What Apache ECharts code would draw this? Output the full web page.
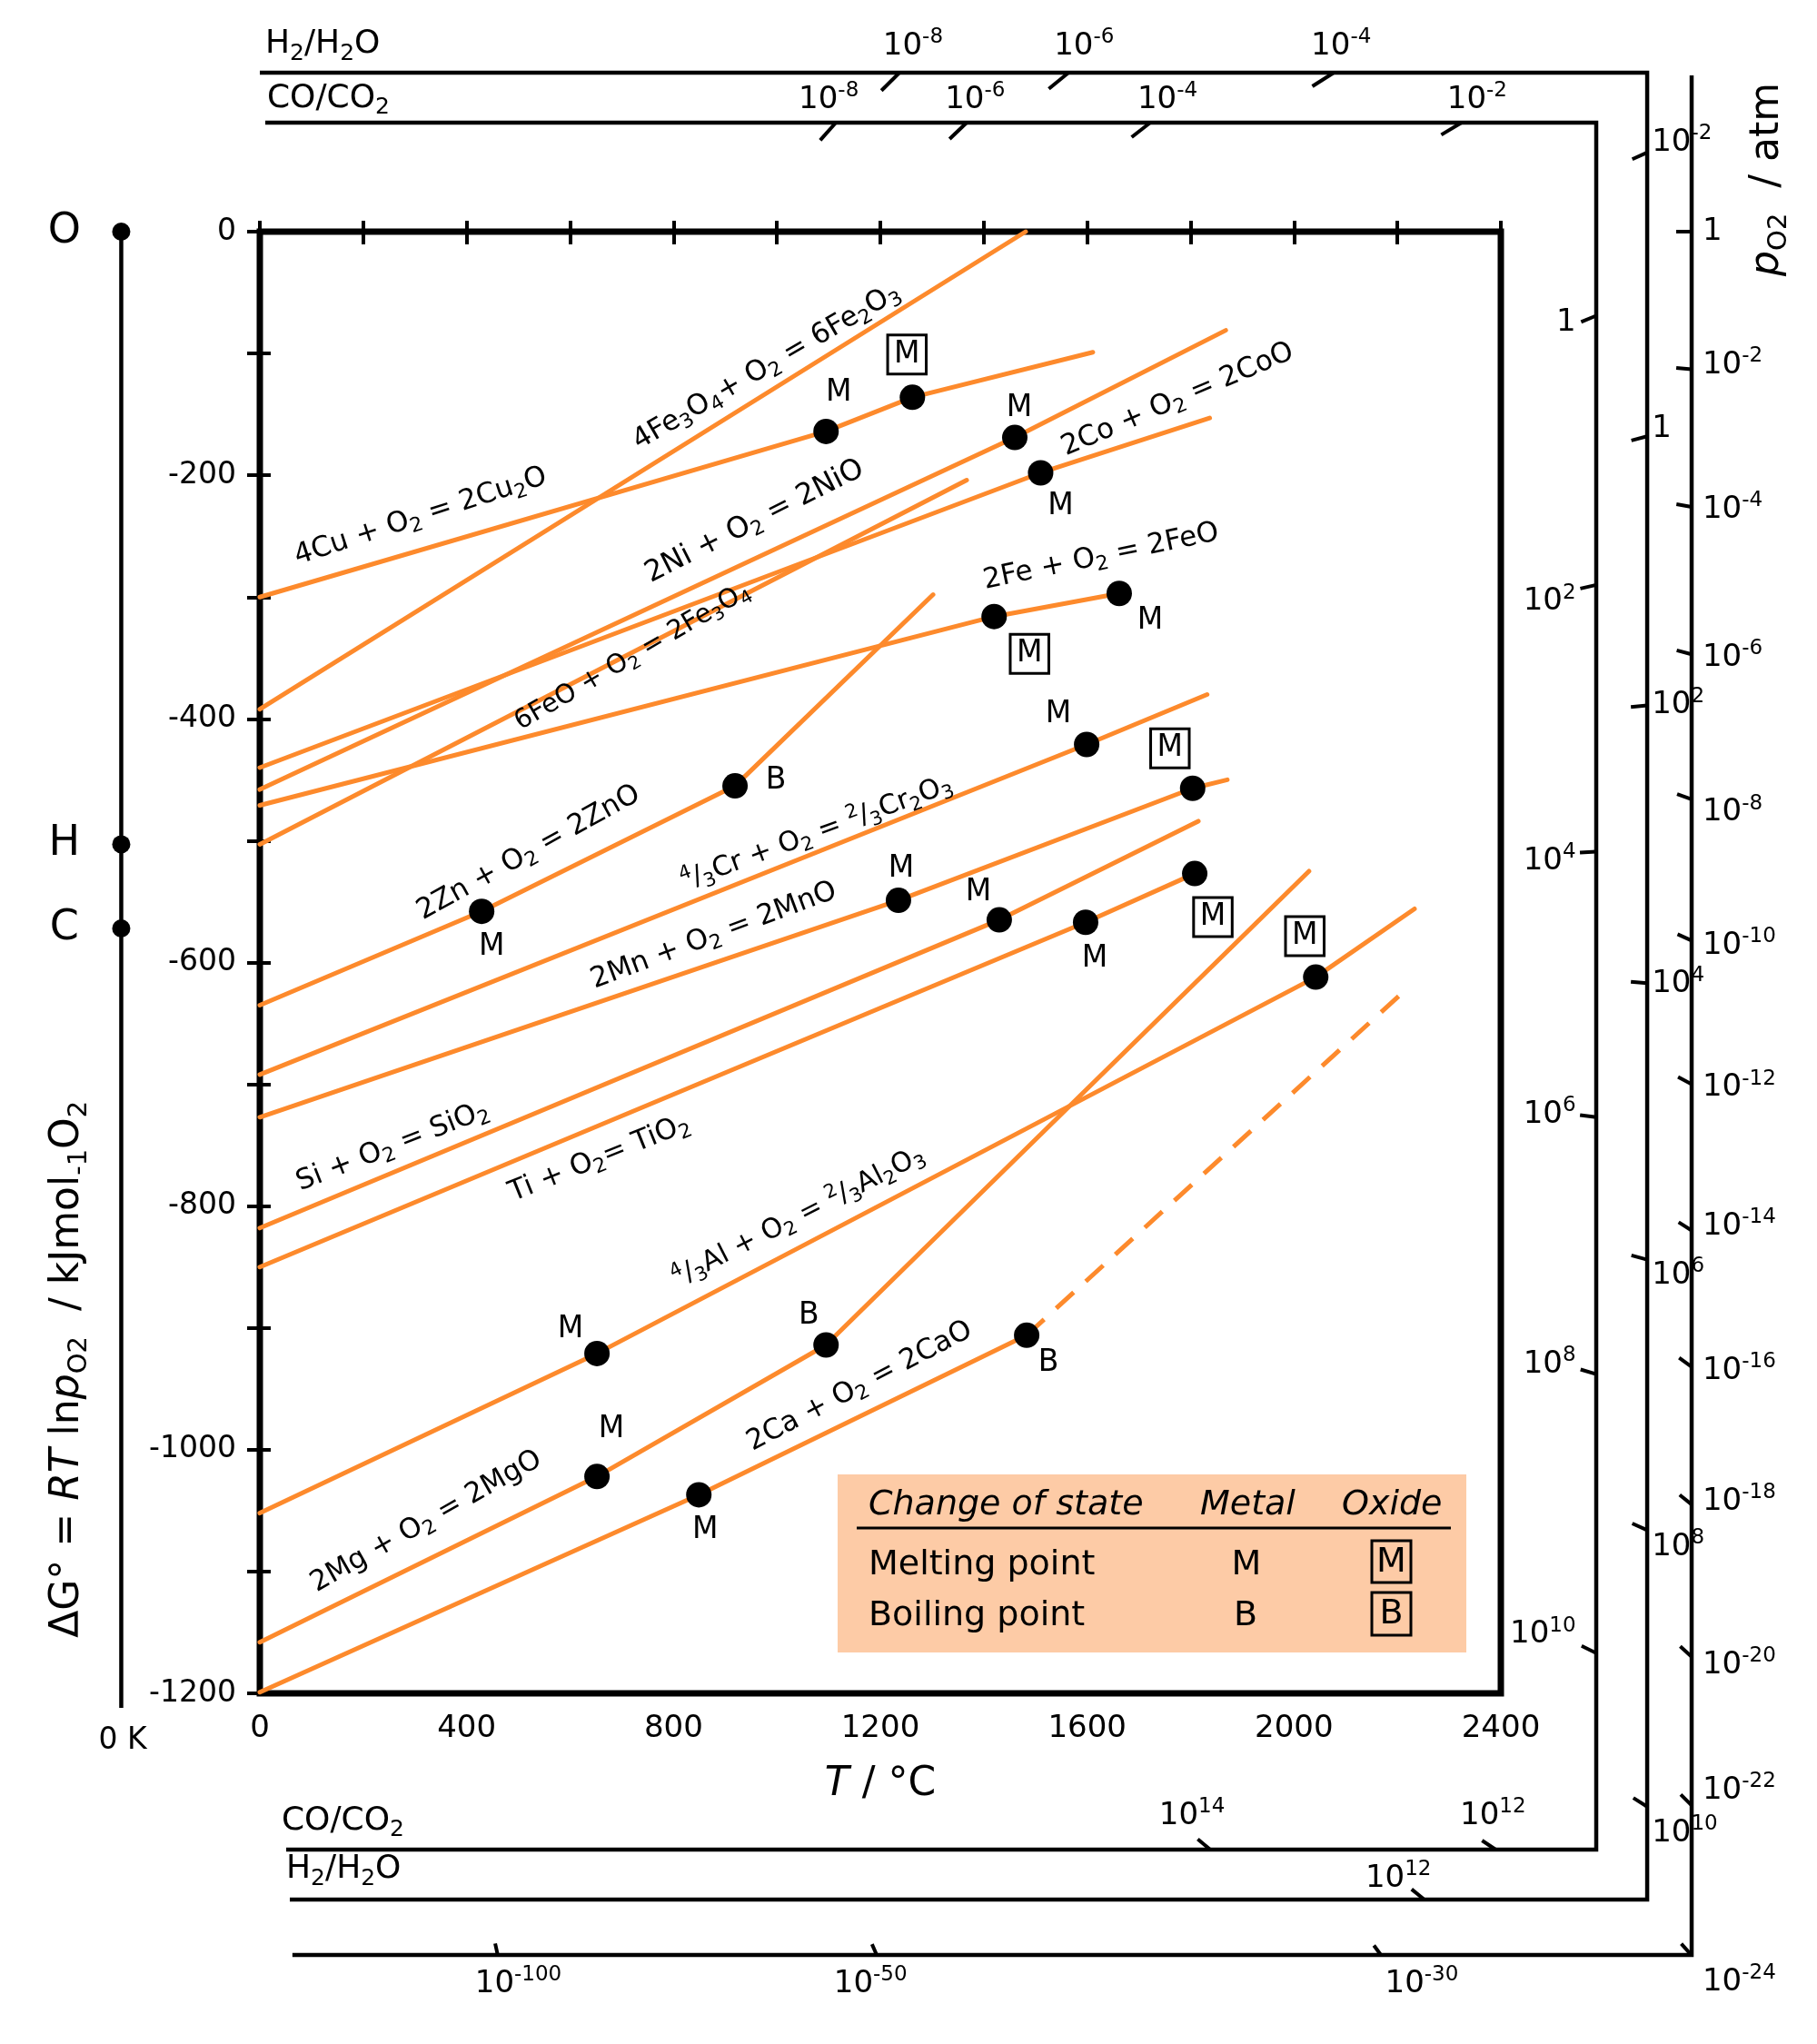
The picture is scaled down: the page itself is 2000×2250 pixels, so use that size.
<!DOCTYPE html>
<html><head><meta charset="utf-8"><title>Ellingham diagram</title>
<script src="https://cdn.jsdelivr.net/npm/echarts@6.0.0/dist/echarts.min.js"></script>
<style>html,body{margin:0;padding:0;background:#fff;}#chart{width:2000px;height:2250px;}</style>
</head><body><div id="chart"></div>
<script>
// ================= DATA (T in °C, ΔG° in kJ per mol O2) =================
const Cu2O   = [[0,-300],[1095,-164],[1262,-136],[1611,-99]];
const Cu2O_states = ['', 'M', 'Mo', ''];
const Fe2O3  = [[0,-392],[1481,0]];
const Fe2O3_states = ['', ''];
const NiO    = [[0,-458],[1460,-169],[1868,-81]];
const NiO_states = ['', 'M', ''];
const CoO    = [[0,-440],[1510,-198],[1837,-153]];
const CoO_states = ['', 'M', ''];
const Fe3O4  = [[0,-503],[1367,-204]];
const Fe3O4_states = ['', ''];
const FeO    = [[0,-471],[1420,-316],[1662,-297]];
const FeO_states = ['', 'Mo', 'M'];
const ZnO    = [[0,-635],[429,-558],[919,-455],[1302,-298]];
const ZnO_states = ['', 'M', 'B', ''];
const Cr2O3  = [[0,-692],[1599,-421],[1832,-380]];
const Cr2O3_states = ['', 'M', ''];
const MnO    = [[0,-727],[1235,-549],[1804,-457],[1871,-450]];
const MnO_states = ['', 'M', 'Mo', ''];
const SiO2   = [[0,-818],[1430,-565],[1815,-484]];
const SiO2_states = ['', 'M', ''];
const TiO2   = [[0,-850],[1597,-567],[1808,-527]];
const TiO2_states = ['', 'M', 'Mo'];
const Al2O3  = [[0,-1052],[652,-921],[2042,-612],[2233,-556]];
const Al2O3_states = ['', 'M', 'Mo', ''];
const MgO    = [[0,-1158],[652,-1022],[1095,-914],[2029,-525]];
const MgO_states = ['', 'M', 'B', ''];
const CaO    = [[0,-1199],[849,-1037],[1483,-906]];
const CaO_states = ['', 'M', 'B'];
const CaO_extrapolated = [[1483,-906],[2217,-622]];

const reactionLabels = [
  '{n|4Cu + O}{s|2}{n| = 2Cu}{s|2}{n|O}',
  '{n|4Fe}{s|3}{n|O}{s|4}{n|+ O}{s|2}{n| = 6Fe}{s|2}{n|O}{s|3}',
  '{n|2Ni + O}{s|2}{n| = 2NiO}',
  '{n|2Co + O}{s|2}{n| = 2CoO}',
  '{n|6FeO + O}{s|2}{n| = 2Fe}{s|3}{n|O}{s|4}',
  '{n|2Fe + O}{s|2}{n| = 2FeO}',
  '{n|2Zn + O}{s|2}{n| = 2ZnO}',
  '{p|4}{n|/}{s|3}{n|Cr + O}{s|2}{n| = }{p|2}{n|/}{s|3}{n|Cr}{s|2}{n|O}{s|3}',
  '{n|2Mn + O}{s|2}{n| = 2MnO}',
  '{n|Si + O}{s|2}{n| = SiO}{s|2}',
  '{n|Ti + O}{s|2}{n|= TiO}{s|2}',
  '{p|4}{n|/}{s|3}{n|Al + O}{s|2}{n| = }{p|2}{n|/}{s|3}{n|Al}{s|2}{n|O}{s|3}',
  '{n|2Mg + O}{s|2}{n| = 2MgO}',
  '{n|2Ca + O}{s|2}{n| = 2CaO}'
];

// reference points on the 0 K line (kJ)
const refNames = ['O', 'H', 'C'];
const refG = [0, -503, -572];

// nomographic scales: exponents, tick positions and label positions (°C or kJ)
const h2TopExp = [-8, -6, -4];
const h2TopTickT = [1237, 1564, 2077];
const h2TopLabelT = [1205, 1536, 2033];
const h2RightExp = [-2, 0, 2, 4, 6, 8, 10];
const h2RightTickG = [65, -168, -389, -617, -844, -1066, -1293];
const h2RightLabelG = [73, -162, -389, -618, -857, -1080, -1315];
const h2BottomExp = [12];
const h2BottomTickT = [2252];
const h2BottomLabelT = [2138];

const coTopExp = [-8, -6, -4, -2];
const coTopTickT = [1114, 1367, 1722, 2324];
const coTopLabelT = [1042, 1325, 1697, 2296];
const coRightExp = [0, 2, 4, 6, 8, 10];
const coRightTickG = [-69, -290, -509, -727, -938, -1167];
const coRightLabelG = [-75, -304, -517, -725, -930, -1152];
const coBottomExp = [14, 12];
const coBottomTickT = [1838, 2390];
const coBottomLabelT = [1739, 2321];

const poRightExp = [0, -2, -4, -6, -8, -10, -12, -14, -16, -18, -20, -22, -24];
const poRightTickG = [0, -113, -226, -347, -466, -582, -700, -820, -932, -1045, -1170, -1292, -1415];
const poRightLabelG = [0, -110, -228, -350, -477, -586, -703, -817, -935, -1043, -1177, -1280, -1437];
const poBottomExp = [-100, -50, -30];
const poBottomTickT = [460, 1193, 2168];
const poBottomLabelT = [416, 1110, 2176];

// ================= LAYOUT / STYLE =================
const FONT = 'DejaVu Sans';
const ORANGE = '#fd8a2c';
const CW = 2000, CH = 2250;
const GL = 286, GT = 255, GW = 1366, GH = 1609;
const pxT = GW / 2400, pxG = GH / 1200;
const ovXMin = -GL / pxT, ovXMax = (CW - GL) / pxT;
const ovYMax = GT / pxG, ovYMin = -(CH - GT) / pxG;

const ZERO_K = -268;
const H2_TOP = 130.5, H2_RIGHT = 2683, H2_BOTTOM = -1369.3;
const CO_TOP = 89.5, CO_RIGHT = 2584.5, CO_BOTTOM = -1328.3;
const PO_TOP = 128.3, PO_RIGHT = 2769, PO_BOTTOM = -1414.8;
const frameH2 = [[0, H2_TOP], [H2_RIGHT, H2_TOP], [H2_RIGHT, H2_BOTTOM], [58, H2_BOTTOM]];
const frameCO = [[10.5, CO_TOP], [CO_RIGHT, CO_TOP], [CO_RIGHT, CO_BOTTOM], [51, CO_BOTTOM]];
const framePO = [[PO_RIGHT, PO_TOP], [PO_RIGHT, PO_BOTTOM], [63, PO_BOTTOM]];
const frameZeroK = [[ZERO_K, 0], [ZERO_K, -1212]];
const centerO = [ZERO_K, refG[0]], centerH = [ZERO_K, refG[1]], centerC = [ZERO_K, refG[2]];

const labelAt = [[311,-234],[980,-111],[957,-238],[1775,-138],[721,-349],[1627,-267],[520,-510],
  [1077,-494],[878,-578],[257,-751],[657,-761],[1042,-809],[322,-1059],[1160,-948]];
const labelAngle = [18, 30.2, 26.8, 23.2, 30.3, 11.8, 29, 20.2, 20.5, 21.4, 21.9, 27, 29.5, 27.6];
const labelSize = [31, 31, 32, 31, 29, 31, 31, 30, 31, 31, 31, 30, 31, 31];

const stateOffsets = [
  [[14,-42],[-6,-47]], [], [[5,-32]], [[22,37]], [], [[39,41],[34,30]], [[11,39],[45,-6]],
  [[-31,-33]], [[3,-35],[-25,-44]], [[-23,-30]], [[10,40],[20,48]], [[-29,-26],[-12,-45]],
  [[16,-52],[-19,-32]], [[7,39],[24,31]]
];

const reactions = [Cu2O, Fe2O3, NiO, CoO, Fe3O4, FeO, ZnO, Cr2O3, MnO, SiO2, TiO2, Al2O3, MgO, CaO];
const reactionStates = [Cu2O_states, Fe2O3_states, NiO_states, CoO_states, Fe3O4_states, FeO_states,
  ZnO_states, Cr2O3_states, MnO_states, SiO2_states, TiO2_states, Al2O3_states, MgO_states, CaO_states];

function richSet(n, s) {
  return {
    n: {fontSize: n, lineHeight: Math.round(n * 1.25), fontFamily: FONT, fill: '#000'},
    i: {fontSize: n, lineHeight: Math.round(n * 1.25), fontFamily: FONT, fontStyle: 'italic', fill: '#000'},
    s: {fontSize: s, lineHeight: Math.round(s * 0.6), verticalAlign: 'bottom', fontFamily: FONT, fill: '#000'},
    p: {fontSize: s, lineHeight: Math.round(s * 0.6), verticalAlign: 'top', fontFamily: FONT, fill: '#000'}
  };
}
const scaleRich = richSet(34, 23);
function expText(e) { return e === 0 ? '{n|1}' : '{n|10}{p|' + e + '}'; }

// ---- generic custom series helpers ----
function textSeries(axisIdx, points, items, z) {
  return {
    type: 'custom', xAxisIndex: axisIdx, yAxisIndex: axisIdx, data: points, z: z || 6, silent: true,
    renderItem: function (params, api) {
      const it = items[params.dataIndex];
      const p = api.coord([api.value(0), api.value(1)]);
      const style = Object.assign({
        text: it.text, rich: it.rich, fill: '#000', fontFamily: FONT, fontSize: it.fs || 34,
        fontStyle: it.italic ? 'italic' : 'normal',
        align: it.align || 'center', verticalAlign: 'middle'
      }, it.box || {});
      return {type: 'text', x: p[0] + (it.dx || 0), y: p[1] + (it.dy || 0),
        rotation: (it.rot || 0) * Math.PI / 180, style: style};
    }
  };
}
function tickSeries(points, center, len) {
  return {
    type: 'custom', xAxisIndex: 2, yAxisIndex: 2, data: points, z: 5, silent: true,
    renderItem: function (params, api) {
      const p = api.coord([api.value(0), api.value(1)]);
      const c = api.coord(center);
      const dx = c[0] - p[0], dy = c[1] - p[1], d = Math.hypot(dx, dy);
      return {type: 'line', shape: {x1: p[0], y1: p[1], x2: p[0] + dx / d * len, y2: p[1] + dy / d * len},
        style: {stroke: '#000', lineWidth: 4, lineCap: 'butt'}};
    }
  };
}
function frameSeries(pts, width) {
  return {type: 'line', xAxisIndex: 2, yAxisIndex: 2, data: pts, symbol: 'none', silent: true, z: 4,
    lineStyle: {color: '#000', width: width, join: 'miter', cap: 'butt'}};
}
function scaleLabels(points, exps, align) {
  return textSeries(2, points, exps.map(e => ({text: expText(e), rich: scaleRich, align: align})));
}

const series = [];

// ---- reaction lines ----
reactions.forEach(function (pts) {
  series.push({type: 'line', xAxisIndex: 0, yAxisIndex: 0, data: pts, symbol: 'none', z: 2, silent: true,
    lineStyle: {color: ORANGE, width: 5, cap: 'round'}});
});
series.push({type: 'line', xAxisIndex: 0, yAxisIndex: 0, data: CaO_extrapolated, symbol: 'none', z: 2, silent: true,
  lineStyle: {color: ORANGE, width: 5, type: [26, 18]}});

// ---- transition dots and their letters ----
const dotPts = [], dotItems = [];
reactions.forEach(function (pts, r) {
  let k = 0;
  pts.forEach(function (pt, j) {
    const st = reactionStates[r][j];
    if (!st) return;
    const off = stateOffsets[r][k++] || [0, -30];
    dotPts.push(pt);
    const boxed = st.length > 1;
    dotItems.push({text: st.charAt(0), fs: 33, dx: off[0], dy: off[1],
      box: boxed ? {borderColor: '#000', borderWidth: 3, padding: [5, 7, 4, 7], lineHeight: 34} : {lineHeight: 34}});
  });
});
series.push({type: 'scatter', xAxisIndex: 0, yAxisIndex: 0, data: dotPts, symbolSize: 28, z: 5, silent: true,
  itemStyle: {color: '#000', opacity: 1}});
series.push(textSeries(0, dotPts, dotItems, 7));

// ---- reaction labels ----
series.push(textSeries(0, labelAt, reactionLabels.map((t, i) => ({
  text: t, rich: richSet(labelSize[i], Math.round(labelSize[i] * 0.7)), rot: labelAngle[i]
})), 7));

// ---- nomographic scales (overlay grid, same units) ----
series.push(frameSeries(frameH2, 4.5));
series.push(frameSeries(frameCO, 4.5));
series.push(frameSeries(framePO, 4.5));
series.push(frameSeries(frameZeroK, 4.5));
series.push({type: 'scatter', xAxisIndex: 2, yAxisIndex: 2, data: refG.map(g => [ZERO_K, g]), symbolSize: 20,
  itemStyle: {color: '#000', opacity: 1}, z: 5, silent: true});

series.push(tickSeries(h2TopTickT.map(t => [t, H2_TOP]), centerH, 28));
series.push(tickSeries(h2RightTickG.map(g => [H2_RIGHT, g]), centerH, 18));
series.push(tickSeries(h2BottomTickT.map(t => [t, H2_BOTTOM]), centerH, 18));
series.push(tickSeries(coTopTickT.map(t => [t, CO_TOP]), centerC, 26));
series.push(tickSeries(coRightTickG.map(g => [CO_RIGHT, g]), centerC, 18));
series.push(tickSeries(coBottomTickT.map(t => [t, CO_BOTTOM]), centerC, 18));
series.push(tickSeries(poRightTickG.map(g => [PO_RIGHT, g]), centerO, 17));
series.push(tickSeries(poBottomTickT.map(t => [t, PO_BOTTOM]), centerO, 13));

series.push(scaleLabels(h2TopLabelT.map(t => [t, 152]), h2TopExp, 'left'));
series.push(scaleLabels(h2RightLabelG.map(g => [2692, g]), h2RightExp, 'left'));
series.push(scaleLabels(h2BottomLabelT.map(t => [t, -1352]), h2BottomExp, 'left'));
series.push(scaleLabels(coTopLabelT.map(t => [t, 108]), coTopExp, 'left'));
series.push(scaleLabels(coRightLabelG.map(g => [2545, g]), coRightExp, 'right'));
series.push(scaleLabels(coBottomLabelT.map(t => [t, -1301]), coBottomExp, 'left'));
series.push(scaleLabels(poRightLabelG.map(g => [2790, g]), poRightExp, 'left'));
series.push(scaleLabels(poBottomLabelT.map(t => [t, -1439]), poBottomExp, 'left'));

// ---- scale names, reference letters, titles ----
const gasRich = richSet(36, 25);
series.push(textSeries(2,
  [[10.5, 153.6], [14, 109.3], [42, -1304.8], [51, -1344.7],
   [-378, refG[0]], [-378, refG[1]], [-378, refG[2]], [-265, -1239],
   [-372, -934], [2915, 43]],
  [
    {text: '{n|H}{s|2}{n|/H}{s|2}{n|O}', rich: gasRich, align: 'left'},
    {text: '{n|CO/CO}{s|2}', rich: gasRich, align: 'left'},
    {text: '{n|CO/CO}{s|2}', rich: gasRich, align: 'left'},
    {text: '{n|H}{s|2}{n|/H}{s|2}{n|O}', rich: gasRich, align: 'left'},
    {text: refNames[0], fs: 46}, {text: refNames[1], fs: 46}, {text: refNames[2], fs: 46},
    {text: '0 K', fs: 33},
    {text: '{n|ΔG° = }{i|RT}{n| ln}{i|p}{s|O2}{n|  / kJmol}{s|-1}{n|O}{s|2}', rich: richSet(44, 29), rot: 90},
    {text: '{i|p}{s|O2}{n|  / atm}', rich: richSet(44, 29), rot: 90}
  ]));

// ================= CHART =================
const chart = echarts.init(document.getElementById('chart'), null, {width: CW, height: CH, renderer: 'canvas'});
chart.setOption({
  animation: false,
  backgroundColor: '#fff',
  textStyle: {fontFamily: FONT, color: '#000'},
  grid: [
    {left: GL, top: GT, width: GW, height: GH, show: true, borderColor: '#000', borderWidth: 7, backgroundColor: 'transparent'},
    {left: 0, top: 0, width: CW, height: CH, show: false}
  ],
  xAxis: [
    {gridIndex: 0, type: 'value', min: 0, max: 2400, interval: 200, position: 'bottom',
      axisLine: {show: false}, splitLine: {show: false},
      axisTick: {show: true, length: 14, lineStyle: {color: '#000', width: 4}},
      axisLabel: {fontSize: 34, color: '#000', fontFamily: FONT, margin: 22,
        formatter: v => (v % 400 === 0 ? String(v) : '')},
      name: '{i|T}{n| / °C}', nameLocation: 'middle', nameGap: 73,
      nameTextStyle: {rich: richSet(44, 30)}},
    {gridIndex: 0, type: 'value', min: 0, max: 2400, interval: 200, position: 'bottom',
      axisLine: {show: false}, splitLine: {show: false}, axisLabel: {show: false},
      axisTick: {show: true, inside: true, length: 12, lineStyle: {color: '#000', width: 4}}},
    {gridIndex: 1, type: 'value', min: ovXMin, max: ovXMax, show: false, splitLine: {show: false}}
  ],
  yAxis: [
    {gridIndex: 0, type: 'value', min: -1200, max: 0, interval: 100, position: 'left',
      axisLine: {show: false}, splitLine: {show: false},
      axisTick: {show: true, length: 14, lineStyle: {color: '#000', width: 4}},
      axisLabel: {fontSize: 33, color: '#000', fontFamily: FONT, margin: 26,
        formatter: v => (v % 200 === 0 ? String(v) : '')}},
    {gridIndex: 0, type: 'value', min: -1200, max: 0, interval: 100, position: 'left',
      axisLine: {show: false}, splitLine: {show: false}, axisLabel: {show: false},
      axisTick: {show: true, inside: true, length: 12, lineStyle: {color: '#000', width: 4}}},
    {gridIndex: 1, type: 'value', min: ovYMin, max: ovYMax, show: false, splitLine: {show: false}}
  ],
  graphic: [
    {type: 'rect', z: 10, shape: {x: 922, y: 1623, width: 692, height: 196}, style: {fill: '#fdcba6'}},
    {type: 'text', z: 11, x: 956, y: 1657, style: {text: 'Change of state', fontFamily: FONT, fontSize: 38, fontStyle: 'italic', fill: '#000', verticalAlign: 'middle'}},
    {type: 'text', z: 11, x: 1321, y: 1657, style: {text: 'Metal', fontFamily: FONT, fontSize: 38, fontStyle: 'italic', fill: '#000', verticalAlign: 'middle'}},
    {type: 'text', z: 11, x: 1477, y: 1657, style: {text: 'Oxide', fontFamily: FONT, fontSize: 38, fontStyle: 'italic', fill: '#000', verticalAlign: 'middle'}},
    {type: 'line', z: 11, shape: {x1: 943, y1: 1682, x2: 1597, y2: 1682}, style: {stroke: '#000', lineWidth: 3}},
    {type: 'text', z: 11, x: 956, y: 1723, style: {text: 'Melting point', fontFamily: FONT, fontSize: 38, fill: '#000', verticalAlign: 'middle'}},
    {type: 'text', z: 11, x: 1372, y: 1723, style: {text: 'M', fontFamily: FONT, fontSize: 38, fill: '#000', align: 'center', verticalAlign: 'middle'}},
    {type: 'rect', z: 11, shape: {x: 1510, y: 1696, width: 43, height: 46}, style: {fill: 'none', stroke: '#000', lineWidth: 3}},
    {type: 'text', z: 11, x: 1531.5, y: 1720, style: {text: 'M', fontFamily: FONT, fontSize: 38, fill: '#000', align: 'center', verticalAlign: 'middle'}},
    {type: 'text', z: 11, x: 956, y: 1779, style: {text: 'Boiling point', fontFamily: FONT, fontSize: 38, fill: '#000', verticalAlign: 'middle'}},
    {type: 'text', z: 11, x: 1371, y: 1779, style: {text: 'B', fontFamily: FONT, fontSize: 38, fill: '#000', align: 'center', verticalAlign: 'middle'}},
    {type: 'rect', z: 11, shape: {x: 1510, y: 1753, width: 43, height: 47}, style: {fill: 'none', stroke: '#000', lineWidth: 3}},
    {type: 'text', z: 11, x: 1531.5, y: 1777, style: {text: 'B', fontFamily: FONT, fontSize: 38, fill: '#000', align: 'center', verticalAlign: 'middle'}}
  ],
  series: series
});
</script>
</body></html>
